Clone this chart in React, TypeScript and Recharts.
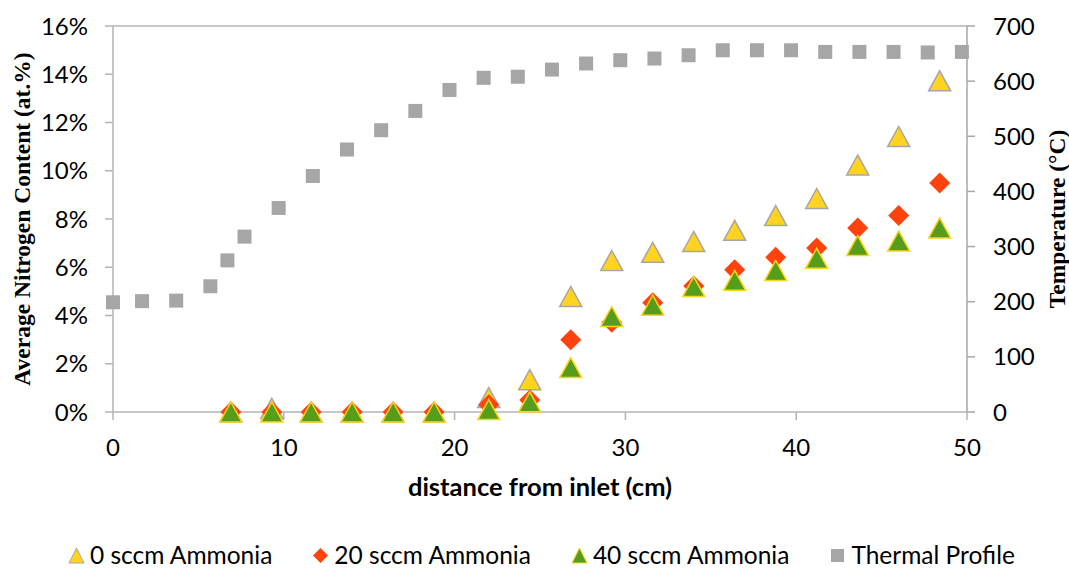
import React from 'react';
import { ScatterChart, Scatter, XAxis, YAxis, ReferenceLine } from 'recharts';

// axis ticks
const distanceTicks = [0, 10, 20, 30, 40, 50];
const nitrogenTicks = [0, 2, 4, 6, 8, 10, 12, 14, 16];
const tempTicks = [0, 100, 200, 300, 400, 500, 600, 700];

// sample positions along the tube (cm) and nitrogen content (at.%)
const sampleDistance = [6.9, 9.3, 11.6, 14.0, 16.4, 18.8, 22.0, 24.4, 26.8, 29.2, 31.6, 34.0, 36.4, 38.8, 41.2, 43.6, 46.0, 48.4];
const nitrogen0 = [0, 0.15, 0, 0, 0, 0, 0.6, 1.34, 4.79, 6.28, 6.62, 7.07, 7.53, 8.14, 8.85, 10.24, 11.42, 13.73];
const nitrogen20 = [0, 0, 0, 0, 0, 0, 0.3, 0.5, 2.99, 3.72, 4.53, 5.22, 5.9, 6.41, 6.8, 7.63, 8.14, 9.49];
const nitrogen40 = [0, 0, 0, 0, 0, 0, 0.1, 0.42, 1.84, 3.96, 4.43, 5.2, 5.46, 5.87, 6.37, 6.9, 7.09, 7.63];

// furnace thermal profile
const profileDistance = [0, 1.7, 3.7, 5.7, 6.7, 7.7, 9.7, 11.7, 13.7, 15.7, 17.7, 19.7, 21.7, 23.7, 25.7, 27.7, 29.7, 31.7, 33.7, 35.7, 37.7, 39.7, 41.7, 43.7, 45.7, 47.7, 49.7];
const profileTemp = [199, 201, 202, 228, 275, 318, 370, 428, 476, 511, 546, 584, 606, 608, 621, 632, 638, 641, 647, 656, 656, 656, 653, 653, 653, 652, 653];

const YELLOW = '#ffd320';
const ORANGE = '#ff420e';
const GREEN = '#579d1c';
const GREY = '#a6a6a6';
const AXIS = '#b4b4b4';

const toPoints = (xs: number[], ys: number[]) => xs.map((x, i) => ({ x, y: ys[i] }));

const series0 = toPoints(sampleDistance, nitrogen0);
const series20 = toPoints(sampleDistance, nitrogen20);
const series40 = toPoints(sampleDistance, nitrogen40);
const profile = toPoints(profileDistance, profileTemp);

const tickFont = { fill: '#000', fontSize: 24, fontFamily: 'Lato' };
const titleSerif = { fontFamily: 'Liberation Serif', fontWeight: 700, fontSize: 23.5, fill: '#000' };

const triangle = (fill: string, stroke: string) => (props: any) => {
  const { cx, cy } = props;
  const w = 22;
  const h = 20;
  return (
    <path
      d={`M${cx},${cy - h / 2}L${cx + w / 2},${cy + h / 2}L${cx - w / 2},${cy + h / 2}Z`}
      fill={fill}
      stroke={stroke}
      strokeWidth={1.5}
    />
  );
};

const diamond = (props: any) => {
  const { cx, cy } = props;
  const r = 10.5;
  return <path d={`M${cx},${cy - r}L${cx + r},${cy}L${cx},${cy + r}L${cx - r},${cy}Z`} fill={ORANGE} />;
};

const square = (props: any) => {
  const { cx, cy } = props;
  return <rect x={cx - 7} y={cy - 7} width={14} height={14} fill={GREY} />;
};

const leftTitle = (props: any) => {
  const { x, y, height } = props.viewBox;
  const cx = x + 22;
  const cy = y + height / 2;
  return (
    <text x={cx} y={cy} transform={`rotate(-90, ${cx}, ${cy})`} textAnchor="middle" dominantBaseline="central" style={titleSerif}>
      Average Nitrogen Content (at.%)
    </text>
  );
};

const rightTitle = (props: any) => {
  const { x, y, height } = props.viewBox;
  const cx = x + 90;
  const cy = y + height / 2;
  return (
    <text x={cx} y={cy} transform={`rotate(-90, ${cx}, ${cy})`} textAnchor="middle" dominantBaseline="central" style={titleSerif}>
      Temperature (°C)
    </text>
  );
};

const bottomTitle = (props: any) => {
  const { x, y, width } = props.viewBox;
  return (
    <text
      x={x + width / 2}
      y={y + 74}
      textAnchor="middle"
      dominantBaseline="central"
      style={{ fontFamily: 'Lato', fontWeight: 700, fontSize: 25.5, fill: '#000' }}
    >
      distance from inlet (cm)
    </text>
  );
};

const legendItems = [
  { name: '0 sccm Ammonia', icon: <path d="M7.5,0L15,15L0,15Z" fill={YELLOW} stroke={GREY} strokeWidth={1} /> },
  { name: '20 sccm Ammonia', icon: <path d="M7.5,0L15,7.5L7.5,15L0,7.5Z" fill={ORANGE} /> },
  { name: '40 sccm Ammonia', icon: <path d="M7.5,0L15,15L0,15Z" fill={GREEN} stroke={YELLOW} strokeWidth={1} /> },
  { name: 'Thermal Profile', icon: <rect x={1} y={1} width={13} height={13} fill={GREY} /> },
];

const ChartLegend = () => (
  <div
    style={{
      position: 'absolute',
      left: 69,
      top: 544,
      height: 22,
      display: 'flex',
      alignItems: 'center',
      gap: 41,
      fontFamily: 'Lato',
      fontSize: 24.5,
      lineHeight: '22px',
      color: '#000',
      whiteSpace: 'nowrap',
    }}
  >
    {legendItems.map((item) => (
      <div key={item.name} style={{ display: 'flex', alignItems: 'center', gap: 6 }}>
        <svg width={15} height={15} style={{ display: 'block', overflow: 'visible' }}>
          {item.icon}
        </svg>
        <span>{item.name}</span>
      </div>
    ))}
  </div>
);

export default function App() {
  return (
    <div style={{ position: 'absolute', left: 0, top: 0, width: 1069, height: 568, background: '#fff' }}>
      <ScatterChart width={1069} height={568} margin={{ top: 26, right: 0, bottom: 96, left: 0 }}>
        <XAxis
          type="number"
          dataKey="x"
          domain={[0, 50]}
          ticks={distanceTicks}
          height={60}
          axisLine={{ stroke: AXIS, strokeWidth: 1.5 }}
          tickLine={{ stroke: AXIS, strokeWidth: 1.5 }}
          tickSize={8}
          tickMargin={19}
          tick={tickFont}
          label={bottomTitle}
        />
        <YAxis
          yAxisId="left"
          type="number"
          dataKey="y"
          domain={[0, 16]}
          ticks={nitrogenTicks}
          width={113}
          axisLine={{ stroke: AXIS, strokeWidth: 1.5 }}
          tickLine={{ stroke: AXIS, strokeWidth: 1.5 }}
          tickSize={8}
          tickMargin={17}
          tick={tickFont}
          tickFormatter={(v: number) => `${v}%`}
          label={leftTitle}
        />
        <YAxis
          yAxisId="right"
          orientation="right"
          type="number"
          dataKey="y"
          domain={[0, 700]}
          ticks={tempTicks}
          width={102}
          axisLine={{ stroke: GREY, strokeWidth: 1.5 }}
          tickLine={{ stroke: GREY, strokeWidth: 1.5 }}
          tickSize={8}
          tickMargin={18}
          tick={tickFont}
          label={rightTitle}
        />
        <ReferenceLine yAxisId="left" y={16} stroke={AXIS} strokeWidth={1.5} />
        <Scatter name="Thermal Profile" yAxisId="right" data={profile} shape={square} isAnimationActive={false} />
        <Scatter name="0 sccm Ammonia" yAxisId="left" data={series0} shape={triangle(YELLOW, GREY)} isAnimationActive={false} />
        <Scatter name="20 sccm Ammonia" yAxisId="left" data={series20} shape={diamond} isAnimationActive={false} />
        <Scatter name="40 sccm Ammonia" yAxisId="left" data={series40} shape={triangle(GREEN, YELLOW)} isAnimationActive={false} />
      </ScatterChart>
      <ChartLegend />
    </div>
  );
}
